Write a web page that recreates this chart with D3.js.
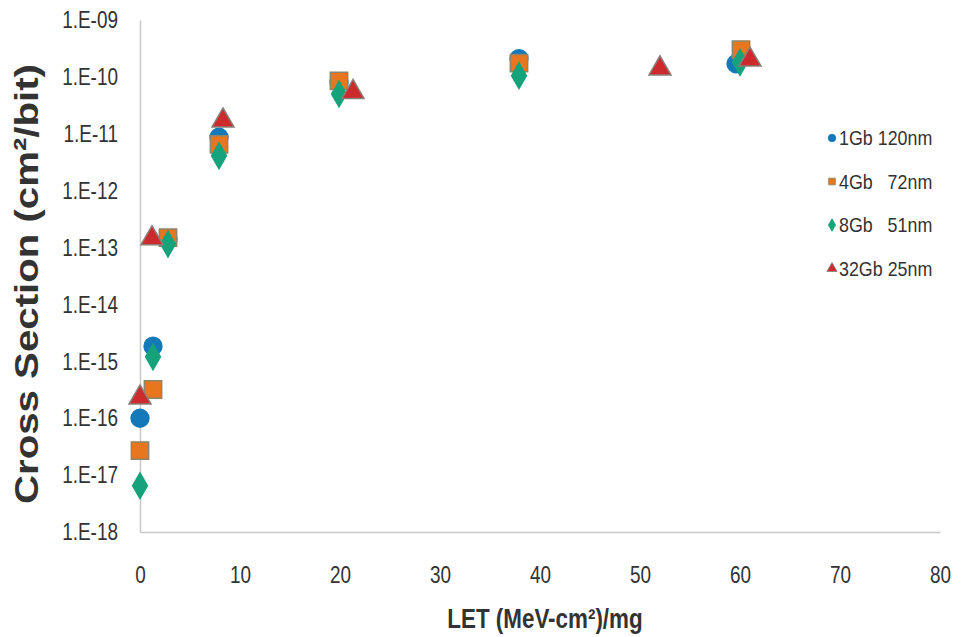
<!DOCTYPE html>
<html>
<head>
    <meta charset='utf-8'>
    <title>Cross Section vs LET</title>
    <script src='https://d3js.org/d3.v7.min.js'></script>
    <style>
        body { margin: 0; background: #fff; }
        text { font-family: 'Liberation Sans', Arial, sans-serif; fill: #333; }
    </style>
</head>
<body>
<div id='chart'></div>
<script type='text/javascript'>
    // dados
    const seriesNames = ['1Gb 120nm', '4Gb   72nm', '8Gb   51nm', '32Gb 25nm'];

    const let1Gb = [0, 1.3, 2.8, 7.9, 19.9, 37.9, 59.6];
    const cs1Gb  = [1.0e-16, 1.85e-15, 1.4e-13, 8.7e-12, 8.0e-11, 2.1e-10, 1.7e-10];

    const let4Gb = [0, 1.3, 2.8, 7.9, 19.9, 37.9, 60.1];
    const cs4Gb  = [2.7e-17, 3.2e-16, 1.5e-13, 6.5e-12, 8.5e-11, 1.75e-10, 3.0e-10];

    const let8Gb = [0, 1.3, 2.8, 7.9, 19.9, 37.9, 60.0];
    const cs8Gb  = [6.5e-18, 1.2e-15, 1.15e-13, 4.1e-12, 5.0e-11, 1.05e-10, 1.8e-10];

    const let32Gb = [0, 1.2, 8.3, 21.3, 52.0, 61.0];
    const cs32Gb  = [2.3e-16, 1.45e-13, 1.7e-11, 5.4e-11, 1.4e-10, 2.0e-10];

    const xTicks = [0, 10, 20, 30, 40, 50, 60, 70, 80];
    const yTicks = [1e-18, 1e-17, 1e-16, 1e-15, 1e-14, 1e-13, 1e-12, 1e-11, 1e-10, 1e-9];

    const colors = ['#1479b8', '#e8761e', '#16a27a', '#cd2a2e'];
    const strokes = ['#1479b8', '#8f8468', '#16a27a', '#8a7f78'];
    const symbols = [d3.symbolCircle, d3.symbolSquare, d3.symbolDiamond, d3.symbolTriangle];
    const sizes = [250, 300, 190, 210];

    const series = [
        {x: let1Gb, y: cs1Gb},
        {x: let4Gb, y: cs4Gb},
        {x: let8Gb, y: cs8Gb},
        {x: let32Gb, y: cs32Gb}
    ];

    let margin = {top: 20, right: 23, bottom: 105, left: 140};
    let W = 963, H = 637;
    let w = W - margin.left - margin.right;
    let h = H - margin.top - margin.bottom;

    let svg = d3.select('#chart')
            .append('svg')
                .attr('width', W)
                .attr('height', H)
            .append('g')
                .attr('transform', 'translate(' + margin.left + ',' + margin.top + ')');

    // fonte estreita: comprime o texto na horizontal
    const squeeze = (sel, k) => {
        sel.each(function () {
            let l = this.getComputedTextLength();
            d3.select(this).attr('textLength', l * k).attr('lengthAdjust', 'spacingAndGlyphs');
        });
    };

    let xScale = d3.scaleLinear().domain([0, 80]).range([0, w]);
    let yScale = d3.scaleLog().domain([1e-18, 1e-9]).range([h, 0]);

    const fmt = (d) => {
        let e = Math.round(Math.log10(d));
        return '1.E-' + String(-e).padStart(2, '0');
    };

    // Eixo Y
    let yAxis = d3.axisLeft(yScale).tickValues(yTicks).tickFormat(fmt).tickSize(0).tickPadding(22);
    let gy = svg.append('g').attr('class', 'y axis').call(yAxis).attr('font-family', null);
    gy.selectAll('text').attr('font-size', '24px');
    squeeze(gy.selectAll('text'), 0.79);
    gy.select('.domain').attr('stroke', '#c8c8c8').attr('stroke-width', 1.5);

    // Eixo X
    let xAxis = d3.axisBottom(xScale).tickValues(xTicks).tickSize(0).tickPadding(34);
    let gx = svg.append('g').attr('class', 'x axis').attr('transform', `translate(0,${h})`).call(xAxis).attr('font-family', null);
    gx.selectAll('text').attr('font-size', '24px');
    squeeze(gx.selectAll('text'), 0.79);
    gx.select('.domain').attr('stroke', '#c8c8c8').attr('stroke-width', 1.5);

    // pontos
    series.forEach((s, i) => {
        let pts = s.x.map((v, j) => [v, s.y[j]]);
        svg.append('g').selectAll('path')
            .data(pts)
            .enter()
            .append('path')
            .attr('d', d3.symbol().type(symbols[i]).size(sizes[i]))
            .attr('transform', (d) => `translate(${xScale(d[0])},${yScale(d[1])})`)
            .attr('fill', colors[i])
            .attr('stroke', strokes[i])
            .attr('stroke-width', 1.5);
    });

    // legenda
    let legend = svg.append('g').attr('transform', `translate(${832 - margin.left},${138 - margin.top})`);
    seriesNames.forEach((name, i) => {
        let g = legend.append('g').attr('transform', `translate(0,${i * 43.5})`);
        g.append('path')
            .attr('d', d3.symbol().type(symbols[i]).size(45))
            .attr('fill', colors[i])
            .attr('stroke', strokes[i])
            .attr('stroke-width', 0.8);
        let t = g.append('text')
            .attr('x', 7)
            .attr('dy', '0.35em')
            .attr('font-size', '21px')
            .style('white-space', 'pre')
            .text(name);
        squeeze(t, 0.85);
    });

    // titulos dos eixos
    let xt = svg.append('text')
       .attr('x', 545 - margin.left)
       .attr('y', h + 96)
       .style('text-anchor', 'middle')
       .attr('font-weight', 'bold')
       .attr('font-size', '28px')
       .text('LET (MeV-cm²)/mg');
    squeeze(xt, 0.8);

    svg.append('text')
       .attr('transform', 'rotate(-90)')
       .attr('x', -(284 - margin.top))
       .attr('y', 38 - margin.left)
       .style('text-anchor', 'middle')
       .attr('font-weight', 'bold')
       .attr('font-size', '34px')
       .attr('textLength', 440)
       .attr('lengthAdjust', 'spacingAndGlyphs')
       .text('Cross Section (cm²/bit)');
</script>
</body>
</html>
